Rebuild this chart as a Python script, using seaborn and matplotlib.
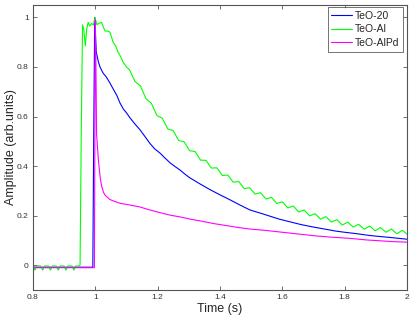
import numpy as np
import pandas as pd
import matplotlib
matplotlib.use('Agg')
import matplotlib.pyplot as plt
import seaborn as sns

# ---- data ----
series_names = ['TeO-20', 'TeO-Al', 'TeO-AlPd']
series_colors = ['#0000ff', '#00ff00', '#ff00ff']

# TeO-20 (blue)
t_teo20 = [0.80, 0.85, 0.90, 0.95, 0.992, 0.995, 0.998, 1.003, 1.010, 1.015, 1.025,
           1.035, 1.047, 1.060, 1.069, 1.079, 1.090, 1.100, 1.111, 1.127, 1.143,
           1.160, 1.175, 1.190, 1.208, 1.224, 1.240, 1.256, 1.272, 1.288, 1.304,
           1.336, 1.368, 1.400, 1.432, 1.464, 1.496, 1.530, 1.560, 1.590, 1.625,
           1.660, 1.700, 1.731, 1.770, 1.800, 1.840, 1.880, 1.920, 1.946, 2.000]
a_teo20 = [-0.008, -0.008, -0.008, -0.008, -0.008, 0.55, 1.00, 0.86, 0.82, 0.80, 0.775,
           0.76, 0.735, 0.705, 0.685, 0.655, 0.63, 0.615, 0.595, 0.57, 0.547,
           0.518, 0.492, 0.47, 0.452, 0.432, 0.413, 0.398, 0.384, 0.367, 0.352,
           0.328, 0.305, 0.284, 0.264, 0.243, 0.223, 0.21, 0.198, 0.186, 0.175,
           0.164, 0.154, 0.147, 0.138, 0.133, 0.127, 0.12, 0.115, 0.112, 0.105]

# TeO-Al (green)
t_teoal = [0.800, 0.806, 0.812, 0.825, 0.831, 0.837, 0.850, 0.856, 0.862, 0.875,
           0.881, 0.887, 0.900, 0.906, 0.912, 0.925, 0.931, 0.937, 0.948, 0.951,
           0.955, 0.959, 0.963, 0.968, 0.972, 0.977, 0.982, 0.988, 0.994, 0.999,
           1.005, 1.010, 1.020, 1.031, 1.040, 1.047, 1.057, 1.065, 1.073, 1.082,
           1.089, 1.100,
           1.1100, 1.1275, 1.1450, 1.1625, 1.1800, 1.1975, 1.2150, 1.2325, 1.2500,
           1.2675, 1.2850, 1.3025, 1.3200, 1.3375, 1.3550, 1.3725, 1.3900, 1.4075,
           1.4250, 1.4425, 1.4600, 1.4775, 1.4950, 1.5125, 1.5300, 1.5475, 1.5650,
           1.5825, 1.6000, 1.6175, 1.6350, 1.6525, 1.6700, 1.6875, 1.7050, 1.7225,
           1.7400, 1.7575, 1.7750, 1.7925, 1.8100, 1.8275, 1.8450, 1.8625, 1.8800,
           1.8975, 1.9150, 1.9325, 1.9500, 1.9675, 1.9850, 2.0025]
a_teoal = [-0.003, -0.020, -0.003, -0.003, -0.020, -0.003, -0.003, -0.020, -0.003, -0.003,
           -0.020, -0.003, -0.003, -0.020, -0.003, -0.003, -0.020, -0.003, -0.003, 0.00,
           0.55, 0.97, 0.95, 0.885, 0.95, 0.98, 0.965, 0.975, 0.97, 1.00,
           0.97, 0.975, 0.98, 0.945, 0.945, 0.94, 0.90, 0.885, 0.86, 0.84,
           0.82, 0.80,
           0.788, 0.741, 0.723, 0.672, 0.653, 0.604, 0.593, 0.550, 0.543,
           0.503, 0.498, 0.462, 0.459, 0.424, 0.423, 0.392, 0.393, 0.362,
           0.364, 0.335, 0.338, 0.309, 0.313, 0.287, 0.293, 0.267, 0.274,
           0.249, 0.256, 0.231, 0.239, 0.215, 0.223, 0.199, 0.208, 0.186,
           0.196, 0.174, 0.184, 0.162, 0.174, 0.154, 0.165, 0.145, 0.158,
           0.139, 0.152, 0.133, 0.146, 0.127, 0.141, 0.123]

# TeO-AlPd (magenta)
t_teoalpd = [0.80, 0.85, 0.90, 0.95, 0.997, 1.000, 1.002, 1.004, 1.0095, 1.015, 1.020,
             1.026, 1.031, 1.036, 1.047, 1.057, 1.079, 1.111, 1.143, 1.175, 1.208,
             1.240, 1.272, 1.304, 1.340, 1.380, 1.420, 1.460, 1.496, 1.550, 1.600,
             1.650, 1.710, 1.760, 1.820, 1.870, 1.920, 1.960, 2.000]
a_teoalpd = [-0.01, -0.01, -0.01, -0.01, -0.01, 0.99, 0.80, 0.53, 0.43, 0.36, 0.32,
             0.295, 0.283, 0.277, 0.265, 0.26, 0.25, 0.243, 0.235, 0.223, 0.212,
             0.202, 0.195, 0.186, 0.178, 0.168, 0.16, 0.152, 0.146, 0.14, 0.133,
             0.126, 0.118, 0.113, 0.108, 0.102, 0.098, 0.095, 0.093]

xticks = [0.8, 1.0, 1.2, 1.4, 1.6, 1.8, 2.0]
xtick_labels = ['0.8', '1', '1.2', '1.4', '1.6', '1.8', '2']
yticks = [0, 0.2, 0.4, 0.6, 0.8, 1.0]
ytick_labels = ['0', '0.2', '0.4', '0.6', '0.8', '1']

# ---- long-form table for seaborn ----
df = pd.concat([
    pd.DataFrame({'Time': t_teo20, 'Amplitude': a_teo20, 'Sample': series_names[0]}),
    pd.DataFrame({'Time': t_teoal, 'Amplitude': a_teoal, 'Sample': series_names[1]}),
    pd.DataFrame({'Time': t_teoalpd, 'Amplitude': a_teoalpd, 'Sample': series_names[2]}),
], ignore_index=True)

sns.set_style('white')
plt.rcParams['font.family'] = ['Liberation Sans', 'DejaVu Sans']

fig = plt.figure(figsize=(4.15, 3.19), dpi=100)
ax = fig.add_axes([0.0795, 0.0909, 0.9012, 0.8934])

sns.lineplot(data=df, x='Time', y='Amplitude', hue='Sample', hue_order=series_names,
             palette=dict(zip(series_names, series_colors)), linewidth=0.8,
             sort=False, estimator=None, ax=ax)

ax.set_xlim(0.8, 2.0)
ax.set_ylim(-0.1, 1.05)
ax.set_xticks(xticks)
ax.set_xticklabels(xtick_labels)
ax.set_yticks(yticks)
ax.set_yticklabels(ytick_labels)
ax.tick_params(direction='in', length=3, width=0.6, colors='#555555',
               labelcolor='#333333', labelsize=6, top=True, right=True,
               bottom=True, left=True, pad=3)
for sp in ax.spines.values():
    sp.set_color('#555555')
    sp.set_linewidth(0.8)

ax.set_xlabel('Time (s)', fontsize=9, labelpad=1)
ax.set_ylabel('Amplitude (arb.units)', fontsize=9)
ax.yaxis.set_label_coords(-0.042, 0.5)

leg = ax.legend(loc='upper right', bbox_to_anchor=(0.99, 0.993), borderaxespad=0,
                fontsize=7.5, frameon=True, fancybox=False, handlelength=2.0,
                handletextpad=0.3, labelspacing=0.35, borderpad=0.35, title=None)
leg.get_frame().set_edgecolor('#333333')
leg.get_frame().set_linewidth(0.6)

plt.savefig('out.png', dpi=100)
